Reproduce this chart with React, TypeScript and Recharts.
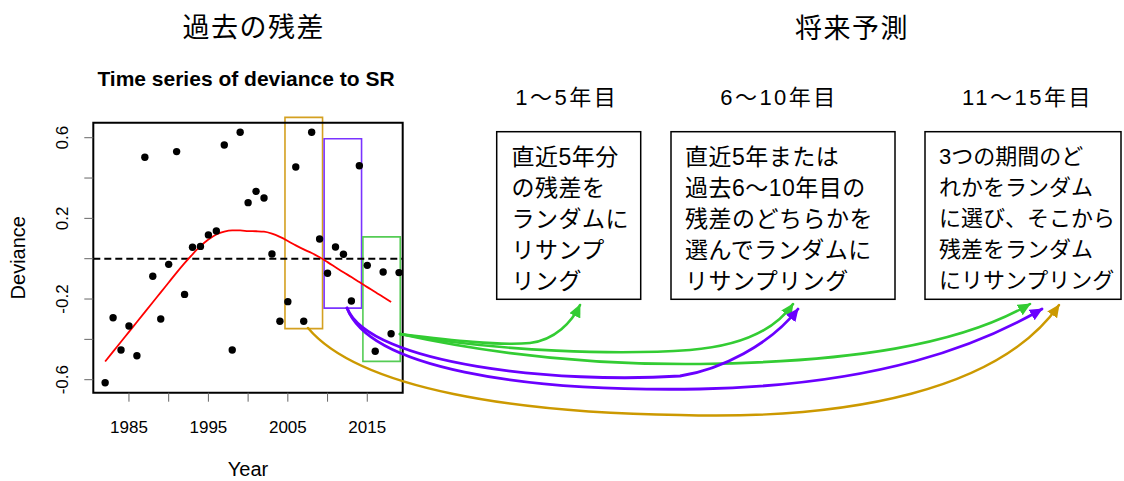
import React from 'react';
import {
  ComposedChart,
  XAxis,
  YAxis,
  Scatter,
  Line,
  ReferenceLine,
  ReferenceArea,
} from 'recharts';

// ---- data ----
const YEARS = [
  1982, 1983, 1984, 1985, 1986, 1987, 1988, 1989, 1990, 1991, 1992, 1993, 1994,
  1995, 1996, 1997, 1998, 1999, 2000, 2001, 2002, 2003, 2004, 2005, 2006, 2007,
  2008, 2009, 2010, 2011, 2012, 2013, 2014, 2015, 2016, 2017, 2018, 2019,
];
const DEVIANCE = [
  -0.615, -0.293, -0.453, -0.334, -0.481, 0.503, -0.087, -0.299, -0.028, 0.531,
  -0.177, 0.057, 0.061, 0.118, 0.137, 0.564, -0.453, 0.627, 0.278, 0.334, 0.301,
  0.023, -0.31, -0.213, 0.455, -0.31, 0.627, 0.098, -0.072, 0.058, 0.022, -0.21,
  0.461, -0.033, -0.459, -0.066, -0.372, -0.069,
];
const SMOOTH_YEARS = [
  1982, 1983, 1984, 1985, 1986, 1987, 1988, 1989, 1990, 1991, 1992, 1993, 1994,
  1995, 1996, 1997, 1998, 1999, 2000, 2001, 2002, 2003, 2004, 2005, 2006, 2007,
  2008, 2009, 2010, 2011, 2012, 2013, 2014, 2015, 2016, 2017, 2018,
];
const SMOOTH = [
  -0.51, -0.461, -0.412, -0.363, -0.314, -0.265, -0.216, -0.167, -0.118, -0.069,
  -0.022, 0.022, 0.062, 0.095, 0.12, 0.134, 0.14, 0.14, 0.137, 0.136, 0.134,
  0.124, 0.108, 0.088, 0.066, 0.046, 0.028, 0.007, -0.017, -0.042, -0.067,
  -0.091, -0.116, -0.141, -0.165, -0.19, -0.215,
];
const X_TICKS = [1985, 1990, 1995, 2000, 2005, 2010, 2015];
const X_LABELS = [1985, 1995, 2005, 2015];
const Y_TICKS = [-0.6, -0.4, -0.2, 0, 0.2, 0.4, 0.6];
const Y_LABELS = [-0.6, -0.2, 0.2, 0.6];
const X_DOMAIN = [1980.51, 2019.46];
const Y_DOMAIN = [-0.6645, 0.6744];

// resampling windows drawn on the plot (year range, deviance range)
const WINDOWS = [
  { x1: 2004.64, x2: 2009.37, y1: -0.347, y2: 0.701, color: '#d4a020' },
  { x1: 2009.57, x2: 2014.28, y1: -0.245, y2: 0.595, color: '#7a33ff' },
  { x1: 2014.45, x2: 2019.15, y1: -0.509, y2: 0.108, color: '#55cc55' },
];

const PERIOD_TITLES = ['1〜5年目', '6〜10年目', '11〜15年目'];
const BOX_TEXTS = [
  ['直近5年分', 'の残差を', 'ランダムに', 'リサンプ', 'リング'],
  ['直近5年または', '過去6〜10年目の', '残差のどちらかを', '選んでランダムに', 'リサンプリング'],
  ['3つの期間のど', 'れかをランダム', 'に選び、そこから', '残差をランダム', 'にリサンプリング'],
];

const pointRows = YEARS.map((year, i) => ({ year, value: DEVIANCE[i] }));
const smoothRows = SMOOTH_YEARS.map((year, i) => ({ year, value: SMOOTH[i] }));

const LATIN = "'Liberation Sans', Arial, sans-serif";
const JP = "'Liberation Sans', 'Noto Sans CJK JP', sans-serif";

const GREEN = '#33cc33';
const PURPLE = '#6a00ff';
const GOLD = '#cc9900';

const XTick = (props: any) => {
  const { x, y, payload } = props;
  if (!X_LABELS.includes(payload.value)) return <g />;
  return (
    <text
      x={x}
      y={y + 24}
      textAnchor="middle"
      dominantBaseline="central"
      fontFamily={LATIN}
      fontSize={17}
      fill="#000"
    >
      {payload.value}
    </text>
  );
};

const YTick = (props: any) => {
  const { x, y, payload } = props;
  if (!Y_LABELS.some((v) => Math.abs(v - payload.value) < 1e-9)) return <g />;
  const cx = x - 20;
  return (
    <text
      x={cx}
      y={y}
      transform={`rotate(-90 ${cx} ${y})`}
      textAnchor="middle"
      dominantBaseline="central"
      fontFamily={LATIN}
      fontSize={17}
      fill="#000"
    >
      {payload.value.toFixed(1)}
    </text>
  );
};

const boxes = [
  { x: 496.7, w: 144, tx: 511.5, cx: 566.7, fs: 23, ls: 0.5 },
  { x: 671, w: 224, tx: 685, cx: 779, fs: 23, ls: 0.5 },
  { x: 925, w: 196, tx: 939, cx: 1027.5, fs: 22, ls: 0 },
];

const ARROWS = [
  { d: 'M400 334 C 450 340, 500 346, 530 343 C 555 340, 572 322, 580 305', c: GREEN, w: 2.6, m: 'g' },
  { d: 'M400 334 C 500 352, 620 355, 690 350 C 740 346, 775 330, 793 304', c: GREEN, w: 2.6, m: 'g' },
  { d: 'M400 334 C 500 356, 600 365, 700 364 C 850 362, 960 345, 1030 304', c: GREEN, w: 2.6, m: 'g' },
  { d: 'M347 308 C 370 365, 560 384, 680 376 C 720 370, 770 345, 798 309', c: PURPLE, w: 2.8, m: 'p' },
  { d: 'M347 308 C 370 368, 520 392, 700 389 C 880 385, 980 345, 1042 309', c: PURPLE, w: 2.8, m: 'p' },
  { d: 'M308 328 C 360 390, 520 413, 680 415 C 850 420, 1000 390, 1059 305', c: GOLD, w: 2.4, m: 'o' },
];

export default function App() {
  return (
    <div
      style={{
        position: 'absolute',
        left: 0,
        top: 0,
        width: 1124,
        height: 481,
        background: '#fff',
        overflow: 'hidden',
      }}
    >
      <ComposedChart
        width={1124}
        height={481}
        margin={{ top: 122.7, right: 721.3, bottom: 48.3, left: 33.3 }}
      >
        <XAxis
          type="number"
          dataKey="year"
          domain={X_DOMAIN}
          allowDataOverflow
          ticks={X_TICKS}
          interval={0}
          axisLine={false}
          tickLine={{ stroke: '#666', strokeWidth: 1 }}
          tickSize={9}
          tick={<XTick />}
          height={40}
        />
        <YAxis
          type="number"
          dataKey="value"
          domain={Y_DOMAIN}
          allowDataOverflow
          ticks={Y_TICKS}
          interval={0}
          axisLine={false}
          tickLine={{ stroke: '#666', strokeWidth: 1 }}
          tickSize={9}
          tick={<YTick />}
          width={60}
        />
        <ReferenceLine y={0} stroke="#000" strokeWidth={2} strokeDasharray="7 4" />
        <Scatter
          data={pointRows}
          dataKey="value"
          isAnimationActive={false}
          shape={(p: any) => <circle cx={p.cx} cy={p.cy} r={3.7} fill="#000" />}
        />
        <Line
          data={smoothRows}
          dataKey="value"
          type="monotone"
          stroke="#ff0000"
          strokeWidth={1.8}
          dot={false}
          activeDot={false}
          isAnimationActive={false}
        />
        {WINDOWS.map((w, i) => (
          <ReferenceArea
            key={i}
            x1={w.x1}
            x2={w.x2}
            y1={w.y1}
            y2={w.y2}
            fill="none"
            stroke={w.color}
            strokeWidth={1.6}
            ifOverflow="visible"
          />
        ))}
        <ReferenceArea
          x1={X_DOMAIN[0]}
          x2={X_DOMAIN[1]}
          y1={Y_DOMAIN[0]}
          y2={Y_DOMAIN[1]}
          fill="none"
          stroke="#000"
          strokeWidth={2}
          ifOverflow="visible"
        />
      </ComposedChart>

      <svg
        width={1124}
        height={481}
        style={{ position: 'absolute', left: 0, top: 0, pointerEvents: 'none' }}
      >
        <defs>
          {[
            ['g', GREEN],
            ['p', PURPLE],
            ['o', GOLD],
          ].map(([id, c]) => (
            <marker
              key={id}
              id={`ah-${id}`}
              markerUnits="userSpaceOnUse"
              markerWidth={14}
              markerHeight={12}
              refX={12}
              refY={6}
              orient="auto"
            >
              <path d="M0,0 L13,6 L0,12 z" fill={c} />
            </marker>
          ))}
        </defs>

        <text x={253.8} y={28} textAnchor="middle" dominantBaseline="central" fontFamily={JP} fontSize={27} letterSpacing={1.5}>
          過去の残差
        </text>
        <text x={246} y={78} textAnchor="middle" dominantBaseline="central" fontFamily={LATIN} fontSize={21} fontWeight="bold">
          Time series of deviance to SR
        </text>
        <text x={248} y={469} textAnchor="middle" dominantBaseline="central" fontFamily={LATIN} fontSize={20}>
          Year
        </text>
        <text x={18} y={257.7} transform="rotate(-90 18 257.7)" textAnchor="middle" dominantBaseline="central" fontFamily={LATIN} fontSize={20}>
          Deviance
        </text>

        <text x={852} y={29} textAnchor="middle" dominantBaseline="central" fontFamily={JP} fontSize={27} letterSpacing={1.5}>
          将来予測
        </text>

        {boxes.map((b, i) => (
          <g key={i}>
            <text x={b.cx} y={97.5} textAnchor="middle" dominantBaseline="central" fontFamily={JP} fontSize={22} letterSpacing={2.5}>
              {PERIOD_TITLES[i]}
            </text>
            <rect x={b.x} y={131.7} width={b.w} height={167.6} fill="#fff" stroke="#000" strokeWidth={1.5} />
            {BOX_TEXTS[i].map((line, j) => (
              <text
                key={j}
                x={b.tx}
                y={156.7 + j * 31}
                dominantBaseline="central"
                fontFamily={JP}
                fontSize={b.fs}
                letterSpacing={b.ls}
              >
                {line}
              </text>
            ))}
          </g>
        ))}

        {ARROWS.map((a, i) => (
          <path
            key={i}
            d={a.d}
            fill="none"
            stroke={a.c}
            strokeWidth={a.w}
            strokeLinecap="round"
            markerEnd={`url(#ah-${a.m})`}
          />
        ))}
      </svg>
    </div>
  );
}
